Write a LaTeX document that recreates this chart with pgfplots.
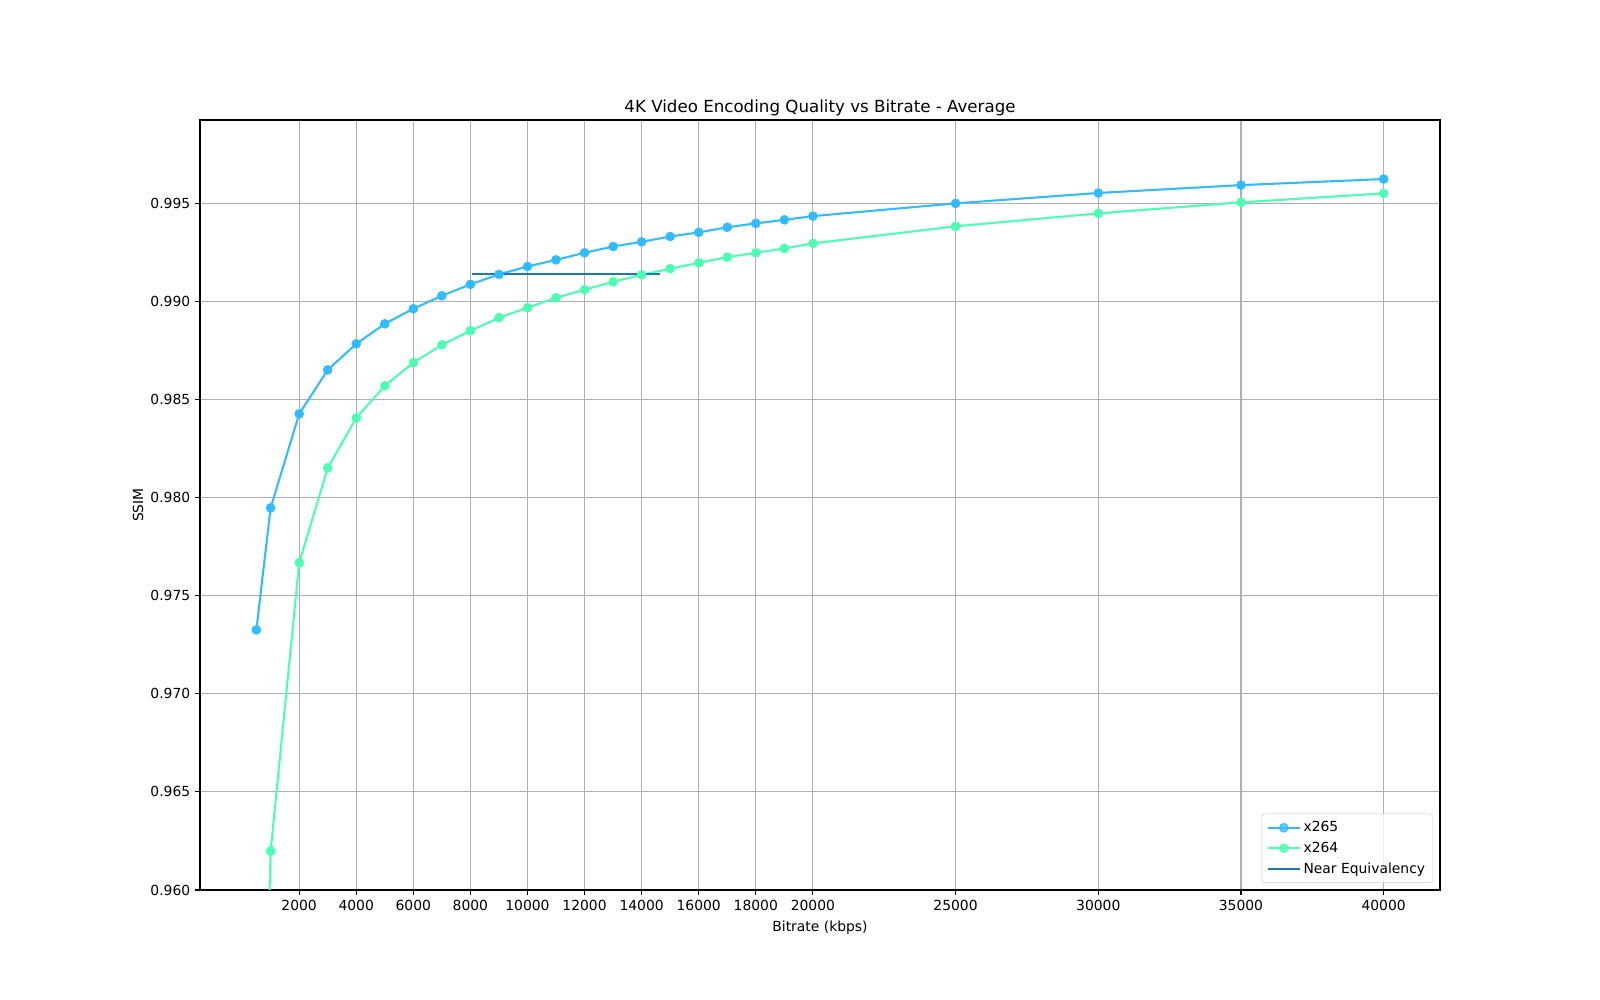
\documentclass[border=0pt]{standalone}
\usepackage{fontspec}
\setmainfont{DejaVu Sans}
\usepackage{pgfplots}
\pgfplotsset{compat=1.18}
\definecolor{cxa}{HTML}{33BBFF}
\definecolor{cxb}{HTML}{4DFFB2}
\definecolor{cne}{HTML}{1F77B4}
\definecolor{cgrid}{HTML}{B0B0B0}
\begin{document}
\begin{tikzpicture}
\path[use as bounding box] (-144pt,-79.2pt) rectangle (1008pt,640.8pt);
\begin{axis}[
  at={(0pt,0pt)}, anchor=south west,
  scale only axis, width=892.8pt, height=554.4pt,
  xmin=-1475, xmax=41975, ymin=0.960, ymax=0.99925,
  xtick={2000,4000,6000,8000,10000,12000,14000,16000,18000,20000,25000,30000,35000,40000},
  ytick={0.960,0.965,0.970,0.975,0.980,0.985,0.990,0.995},
  scaled ticks=false,
  /pgf/number format/assume math mode=true,
  xticklabel style={/pgf/number format/1000 sep={}, /pgf/number format/fixed},
  yticklabel style={/pgf/number format/fixed, /pgf/number format/fixed zerofill, /pgf/number format/precision=3},
  tick label style={font=\fontsize{10}{12}\selectfont},
  tick pos=left, tick align=outside, major tick length=3.5pt,
  every tick/.style={black, line width=0.8pt},
  axis line style={line width=0.8pt},
  grid=major, major grid style={color=cgrid, line width=0.8pt},
  title={4K Video Encoding Quality vs Bitrate - Average},
  title style={font=\fontsize{12}{14}\selectfont, at={(axis description cs:0.5,1)}, anchor=base, yshift=-0.5pt},
  xlabel={Bitrate (kbps)},
  xlabel style={font=\fontsize{10}{12}\selectfont, at={(axis description cs:0.5,0)}, anchor=center, yshift=-27.4pt},
  ylabel={SSIM},
  ylabel style={font=\fontsize{10}{12}\selectfont, at={(axis description cs:-0.05,0.5)}, anchor=center},
  legend cell align=left,
  legend style={at={(axis description cs:1,0)}, anchor=south east, xshift=-5pt, yshift=5pt,
    draw=black!20, fill=white, fill opacity=0.8, text opacity=1, rounded corners=2pt,
    font=\fontsize{10}{12}\selectfont, inner sep=3.5pt, row sep=1.8pt},
  legend image code/.code={\draw[mark repeat=2,mark phase=2,#1] plot coordinates {(0pt,0pt) (11.5pt,0pt) (23pt,0pt)};},
]
\addplot[color=cxa, line width=1.5pt, mark=*, mark options={fill=cxa, draw=cxa, line width=0.5pt, mark size=3.2pt}] coordinates {
(500,0.97326) (1000,0.97948) (2000,0.98427) (3000,0.98651) (4000,0.98784) (5000,0.98886)
(6000,0.98963) (7000,0.99029) (8000,0.99087) (9000,0.99138) (10000,0.99178) (11000,0.99212)
(12000,0.99248) (13000,0.99280) (14000,0.99304) (15000,0.99331) (16000,0.99352) (17000,0.99378)
(18000,0.99398) (19000,0.99416) (20000,0.99435) (25000,0.99500) (30000,0.99553) (35000,0.99593) (40000,0.99624)
};
\addlegendentry{x265}
\addplot[color=cxb, line width=1.5pt, mark=*, mark options={fill=cxb, draw=cxb, line width=0.5pt, mark size=3.2pt}] coordinates {
(500,0.93600) (1000,0.96199) (2000,0.97668) (3000,0.98152) (4000,0.98407) (5000,0.98570)
(6000,0.98688) (7000,0.98779) (8000,0.98851) (9000,0.98917) (10000,0.98968) (11000,0.99019)
(12000,0.99060) (13000,0.99100) (14000,0.99136) (15000,0.99167) (16000,0.99197) (17000,0.99226)
(18000,0.99248) (19000,0.99270) (20000,0.99296) (25000,0.99383) (30000,0.99449) (35000,0.99505) (40000,0.99551)
};
\addlegendentry{x264}
\addplot[color=cne, line width=1.5pt] coordinates {(8062,0.99139) (14638,0.99139)};
\addlegendentry{Near Equivalency}
\end{axis}
\end{tikzpicture}
\end{document}
